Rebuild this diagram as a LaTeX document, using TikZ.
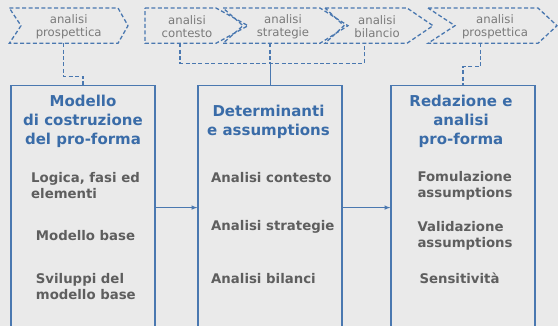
\documentclass[tikz,border=0pt]{standalone}
\usepackage{fontspec}
\setmainfont{DejaVu Sans}
\usetikzlibrary{arrows}
\definecolor{bggray}{HTML}{EAEAEA}
\definecolor{lineblue}{HTML}{4A78B0}
\definecolor{titleblue}{HTML}{3A6CA8}
\definecolor{itemgray}{HTML}{5E5E5E}
\definecolor{labgray}{HTML}{7A7A7A}
\begin{document}
\begin{tikzpicture}[x=1pt,y=-1pt]

\tikzstyle{block}=[draw=lineblue, line width=1.2pt, minimum width=144pt, minimum height=244pt, anchor=north, inner sep=0pt]
\tikzstyle{chev}=[draw=lineblue, line width=1.3pt, dash pattern=on 4pt off 2.4pt]
\tikzstyle{dline}=[lineblue, line width=1.3pt, dash pattern=on 4pt off 2.4pt]
\tikzstyle{title}=[text=titleblue, align=center, inner sep=0pt, font=\bfseries\fontsize{15}{19}\selectfont]
\tikzstyle{item}=[text=itemgray, align=left, anchor=west, inner sep=0pt, font=\bfseries\fontsize{13.3}{16}\selectfont]
\tikzstyle{lab}=[text=labgray, align=center, inner sep=0pt, font=\fontsize{11.7}{13.3}\selectfont]
\tikzstyle{connect}=[-latex, lineblue, line width=1pt]

\useasboundingbox (0,0) rectangle (558,326);
\fill[bggray] (0,0) rectangle (558,326);
\clip (0,0) rectangle (558,326);

% top chevrons
\draw[chev] (9.3,8) -- (118,8) -- (128,25.7) -- (118,43.3) -- (9.3,43.3) -- (21,25.7) -- cycle;
\draw[chev] (145,8) -- (216,8) -- (248,25.7) -- (216,43.3) -- (145,43.3) -- cycle;
\draw[chev] (223,8) -- (320,8) -- (348,25.7) -- (320,43.3) -- (223,43.3) -- (243,25.7) -- cycle;
\draw[chev] (325,8) -- (407,8) -- (433,25.7) -- (407,43.3) -- (325,43.3) -- (344,25.7) -- cycle;
\draw[chev] (428,8) -- (538,8) -- (557,25.7) -- (538,43.3) -- (428,43.3) -- (455,25.7) -- cycle;

\node[lab] (prosA) at (68.7,26.7) {analisi\\prospettica};
\node[lab] (cont) at (187,26.7) {analisi\\contesto};
\node[lab] (strat) at (283,26.7) {analisi\\strategie};
\node[lab] (bil) at (377,26.7) {analisi\\bilancio};
\node[lab] (prosB) at (495,26.7) {analisi\\prospettica};

\coordinate (pa) at (63.3,43.3);
\coordinate (pc) at (180,43.3);
\coordinate (ps) at (270,43.3);
\coordinate (pb) at (364.3,43.3);
\coordinate (pp) at (480.7,43.3);

% main blocks
\node[block] (mod) at (83,85) {};
\node[block] (det) at (270,85) {};
\node[block] (red) at (463,85) {};

\node[title] (t1) at (83,121.3) {Modello\\di costruzione\\del pro-forma};
\node[title] (t2) at (268.5,122) {Determinanti\\e assumptions};
\node[title] (t3) at (461,121.3) {Redazione e\\analisi\\pro-forma};

\node[item] (m1) at (31,185.7) {Logica, fasi ed\\elementi};
\node[item] (m2) at (35.7,236) {Modello base};
\node[item] (m3) at (35.7,286.3) {Sviluppi del\\modello base};

\node[item] (d1) at (211,177.3) {Analisi contesto};
\node[item] (d2) at (211,227.3) {Analisi strategie};
\node[item] (d3) at (211,278.3) {Analisi bilanci};

\node[item] (r1) at (417.3,185.7) {Fomulazione\\assumptions};
\node[item] (r2) at (417.3,235.7) {Validazione\\assumptions};
\node[item] (r3) at (419.3,278.3) {Sensitività};

% links
\draw[dline] (pa) -- ++(0,33) -| (mod.north);
\draw[dline] (pc) -- ++(0,20) -| (pb);
\draw[dline] (ps) -- ++(0,20) coordinate (jn);
\draw[lineblue, line width=1pt] (jn) -- (det.north);
\draw[dline] (pp) -- ++(0,23.4) -| (red.north);

\path (mod) [connect] edge (det);
\path (det) [connect] edge (red);

\end{tikzpicture}
\end{document}
